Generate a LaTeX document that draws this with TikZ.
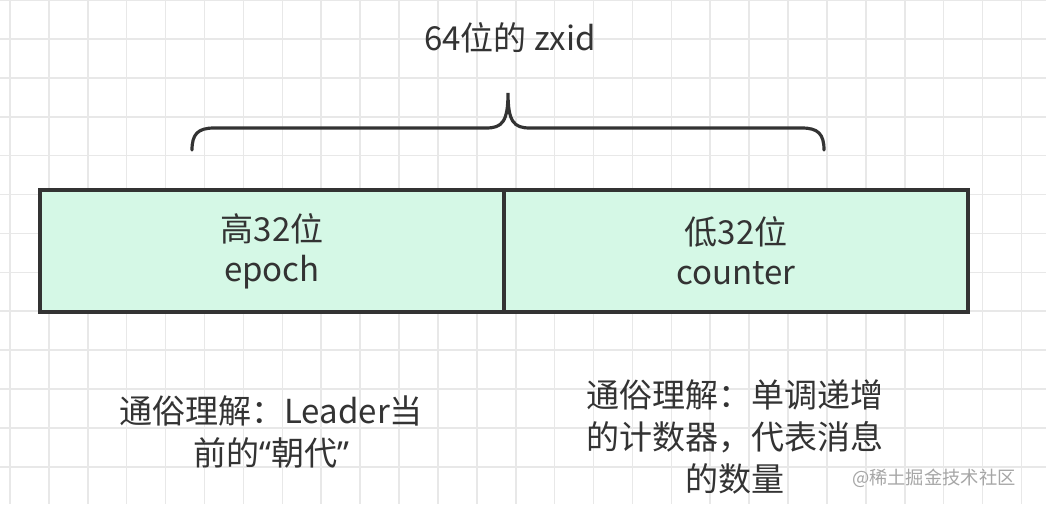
\documentclass[tikz,border=0pt]{standalone}
\usepackage{fontspec}
\setmainfont{Noto Sans CJK SC}
\newfontfamily\latinq{Noto Sans}
\definecolor{inkgray}{HTML}{333333}
\definecolor{mint}{HTML}{D5F8E6}
\definecolor{gridgray}{HTML}{E8E8E8}
\tikzset{
  gridline/.style={gridgray,line width=0.45pt},
  field/.style={draw=inkgray,fill=mint,line width=0.9pt,minimum width=4.64cm,minimum height=1.22cm,
    align=center,text=inkgray,font=\fontsize{9.4}{11.4}\selectfont},
  note/.style={align=center,text=inkgray,font=\fontsize{9.4}{12}\selectfont}
}
\begin{document}
\begin{tikzpicture}
\useasboundingbox (0,0) rectangle (10.46,5.04);
\fill[white] (0,0) rectangle (10.46,5.04);
% grid paper
\foreach \i in {0,...,26} {\draw[gridline] ({0.10+0.389*\i},0) -- ++(0,5.04);}
\foreach \j in {0,...,12} {\draw[gridline] (0,{5.04-0.389*\j}) -- ++(10.46,0);}
% title and brace
\node[note] (zxid) at (5.10,4.66) {64位的 zxid};
\draw[inkgray,line width=0.9pt,line cap=round]
  (1.92,3.54) .. controls (1.92,3.70) and (1.98,3.76) .. (2.14,3.76) -- (4.86,3.76)
  .. controls (5.02,3.76) and (5.08,3.82) .. (5.08,4.11)
  .. controls (5.08,3.82) and (5.14,3.76) .. (5.30,3.76) -- (8.02,3.76)
  .. controls (8.18,3.76) and (8.24,3.70) .. (8.24,3.54);
% the two halves
\node[field] (hi) at (2.72,2.53) {高32位\\epoch};
\node[field] (lo) at (7.36,2.53) {低32位\\counter};
% notes
\node[note] (hinote) at (2.71,0.72) {通俗理解：Leader当\\前的{\latinq “}朝代{\latinq ”}};
\node[note] (lonote) at (7.35,0.67) {通俗理解：单调递增\\的计数器，代表消息\\的数量};
\node[anchor=east,text=gray!70,font=\fontsize{5.2}{6}\selectfont] (mark) at (10.28,0.26) {@稀土掘金技术社区};
\end{tikzpicture}
\end{document}
